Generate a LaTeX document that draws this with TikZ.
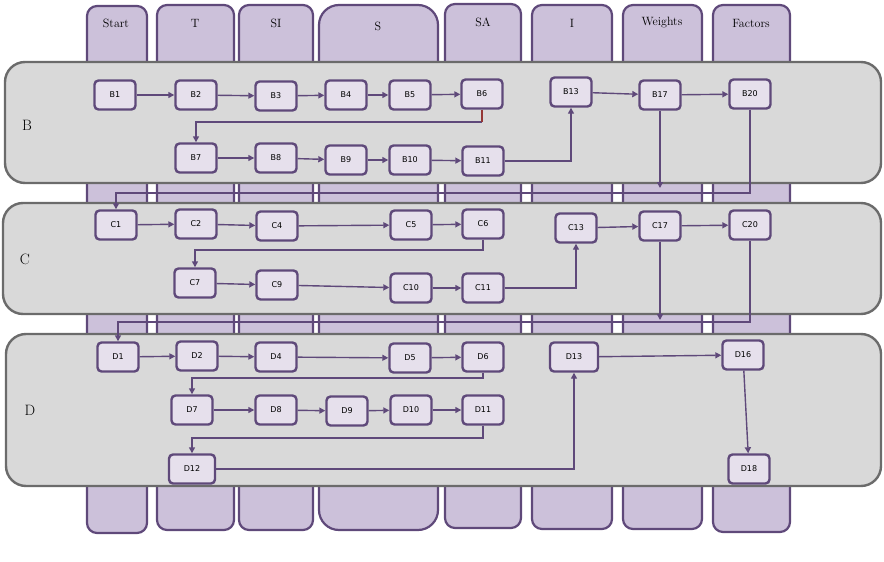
\documentclass[tikz,border=0pt]{standalone}
\usepackage{fontspec}
\newfontfamily\boxfont{DejaVu Sans}
\usetikzlibrary{arrows.meta, calc}
\definecolor{myPurple}{HTML}{5F497A}
\definecolor{myLilac}{HTML}{CCC1DA}
\definecolor{myPale}{HTML}{E6E0EC}
\definecolor{myGray}{HTML}{D9D9D9}
\definecolor{myDark}{HTML}{6B6B6B}
\definecolor{myRed}{HTML}{953735}
\tikzset{
	lanebox/.style={draw=myPurple, fill=myLilac, line width=2.2pt, rounded corners=10pt}
}
\tikzset{
	bandbox/.style={draw=myDark, fill=myGray, line width=2.4pt, rounded corners=20pt}
}
\tikzset{
	procbox/.style={draw=myPurple, fill=myPale, line width=2.4pt, rounded corners=4pt,
			minimum width=41pt, minimum height=29pt, inner sep=0pt,
			font=\boxfont\fontsize{8}{9}\selectfont}
}
\tikzset{
	flowarrow/.style={draw=myPurple, line width=1.4pt, -{Triangle[length=6pt,width=6pt]}}
}
\tikzset{
	lanetext/.style={font=\fontsize{12}{14}\selectfont}
}
\tikzset{
	bandtext/.style={font=\fontsize{15}{17}\selectfont}
}

\begin{document}
\begin{tikzpicture}[x=1pt, y=-1pt]

			\useasboundingbox (0,0) rectangle (884,562);

			% lanes
			\begin{scope}
				\draw[lanebox] (87,6) rectangle (147,533);
				\draw[lanebox] (157,5) rectangle (234,530);
				\draw[lanebox] (239,5) rectangle (313,530);
				\draw[lanebox, rounded corners=20pt] (319,5) rectangle (438,530);
				\draw[lanebox] (445,4) rectangle (521,528);
				\draw[lanebox] (532,5) rectangle (612,529);
				\draw[lanebox] (623,5) rectangle (702,529);
				\draw[lanebox] (713,5) rectangle (790,532);

				\node[lanetext] (lStart) at (116,23) {Start};
				\node[lanetext] (lT) at (195,23) {T};
				\node[lanetext] (lSI) at (276,23) {SI};
				\node[lanetext] (lS) at (378,26) {S};
				\node[lanetext] (lSA) at (483,22) {SA};
				\node[lanetext] (lI) at (572,23) {I};
				\node[lanetext] (lW) at (662,23) {Weights};
				\node[lanetext] (lF) at (751,23) {Factors};
			\end{scope}

			% bands
			\begin{scope}
				\draw[bandbox] (5,62) rectangle (881,183);
				\draw[bandbox] (3,203) rectangle (881,314);
				\draw[bandbox] (6,334) rectangle (881,486);

				\node[bandtext] (tB) at (27,125) {B};
				\node[bandtext] (tC) at (25,259) {C};
				\node[bandtext] (tD) at (30,410) {D};
			\end{scope}

			% band B
			\begin{scope}
				\node[procbox] (B1) at (115,95) {B1};
				\node[procbox] (B2) at (196,95) {B2};
				\node[procbox] (B3) at (276,96) {B3};
				\node[procbox] (B4) at (346,95) {B4};
				\node[procbox] (B5) at (410,95) {B5};
				\node[procbox] (B6) at (482,94) {B6};
				\node[procbox] (B13) at (571,92) {B13};
				\node[procbox] (B17) at (660,95) {B17};
				\node[procbox] (B20) at (750,94) {B20};
				\node[procbox] (B7) at (196,158) {B7};
				\node[procbox] (B8) at (276,158) {B8};
				\node[procbox] (B9) at (346,160) {B9};
				\node[procbox] (B10) at (410,160) {B10};
				\node[procbox] (B11) at (483,161) {B11};

				\coordinate (b6turn) at (482,122);
				\coordinate (b17end) at (660,188);
				\coordinate (b20turn) at (750,193);

				\draw[flowarrow] (B1) -- (B2);
				\draw[flowarrow] (B2) -- (B3);
				\draw[flowarrow] (B3) -- (B4);
				\draw[flowarrow] (B4) -- (B5);
				\draw[flowarrow] (B5) -- (B6);
				\draw[flowarrow] (b6turn) -| (B7);
				\draw[myRed, line width=1.4pt] (B6) -- (b6turn);
				\draw[flowarrow] (B7) -- (B8);
				\draw[flowarrow] (B8) -- (B9);
				\draw[flowarrow] (B9) -- (B10);
				\draw[flowarrow] (B10) -- (B11);
				\draw[flowarrow] (B11) -| (B13);
				\draw[flowarrow] (B13) -- (B17);
				\draw[flowarrow] (B17) -- (B20);
				\draw[flowarrow] (B17) -- (b17end);
			\end{scope}

			% band C
			\begin{scope}
				\node[procbox] (C1) at (116,225) {C1};
				\node[procbox] (C2) at (196,224) {C2};
				\node[procbox] (C4) at (277,226) {C4};
				\node[procbox] (C5) at (411,225) {C5};
				\node[procbox] (C6) at (483,224) {C6};
				\node[procbox] (C13) at (576,228) {C13};
				\node[procbox] (C17) at (660,226) {C17};
				\node[procbox] (C20) at (750,225) {C20};
				\node[procbox] (C7) at (195,283) {C7};
				\node[procbox] (C9) at (277,285) {C9};
				\node[procbox] (C10) at (411,288) {C10};
				\node[procbox] (C11) at (483,288) {C11};

				\coordinate (c6turn) at (483,250);
				\coordinate (c17end) at (660,320);
				\coordinate (c20turn) at (750,322);

				\draw[flowarrow] (B20) -- (b20turn) -| (C1);
				\draw[flowarrow] (C1) -- (C2);
				\draw[flowarrow] (C2) -- (C4);
				\draw[flowarrow] (C4) -- (C5);
				\draw[flowarrow] (C5) -- (C6);
				\draw[flowarrow] (C6) -- (c6turn) -| (C7);
				\draw[flowarrow] (C7) -- (C9);
				\draw[flowarrow] (C9) -- (C10);
				\draw[flowarrow] (C10) -- (C11);
				\draw[flowarrow] (C11) -| (C13);
				\draw[flowarrow] (C13) -- (C17);
				\draw[flowarrow] (C17) -- (C20);
				\draw[flowarrow] (C17) -- (c17end);
			\end{scope}

			% band D
			\begin{scope}
				\node[procbox] (D1) at (118,357) {D1};
				\node[procbox] (D2) at (197,356) {D2};
				\node[procbox] (D4) at (276,357) {D4};
				\node[procbox] (D5) at (410,358) {D5};
				\node[procbox] (D6) at (483,357) {D6};
				\node[procbox, minimum width=48pt] (D13) at (574,357) {D13};
				\node[procbox] (D16) at (743,355) {D16};
				\node[procbox] (D7) at (192,410) {D7};
				\node[procbox] (D8) at (276,410) {D8};
				\node[procbox] (D9) at (347,411) {D9};
				\node[procbox] (D10) at (411,410) {D10};
				\node[procbox] (D11) at (483,410) {D11};
				\node[procbox, minimum width=46pt] (D12) at (192,469) {D12};
				\node[procbox] (D18) at (749,469) {D18};

				\coordinate (d6turn) at (483,378);
				\coordinate (d11turn) at (483,438);

				\draw[flowarrow] (C20) -- (c20turn) -| (D1);
				\draw[flowarrow] (D1) -- (D2);
				\draw[flowarrow] (D2) -- (D4);
				\draw[flowarrow] (D4) -- (D5);
				\draw[flowarrow] (D5) -- (D6);
				\draw[flowarrow] (D6) -- (d6turn) -| (D7);
				\draw[flowarrow] (D7) -- (D8);
				\draw[flowarrow] (D8) -- (D9);
				\draw[flowarrow] (D9) -- (D10);
				\draw[flowarrow] (D10) -- (D11);
				\draw[flowarrow] (D11) -- (d11turn) -| (D12);
				\draw[flowarrow] (D12) -| (D13);
				\draw[flowarrow] (D13) -- (D16);
				\draw[flowarrow] (D16) -- (D18);
			\end{scope}

		\end{tikzpicture}
\end{document}
